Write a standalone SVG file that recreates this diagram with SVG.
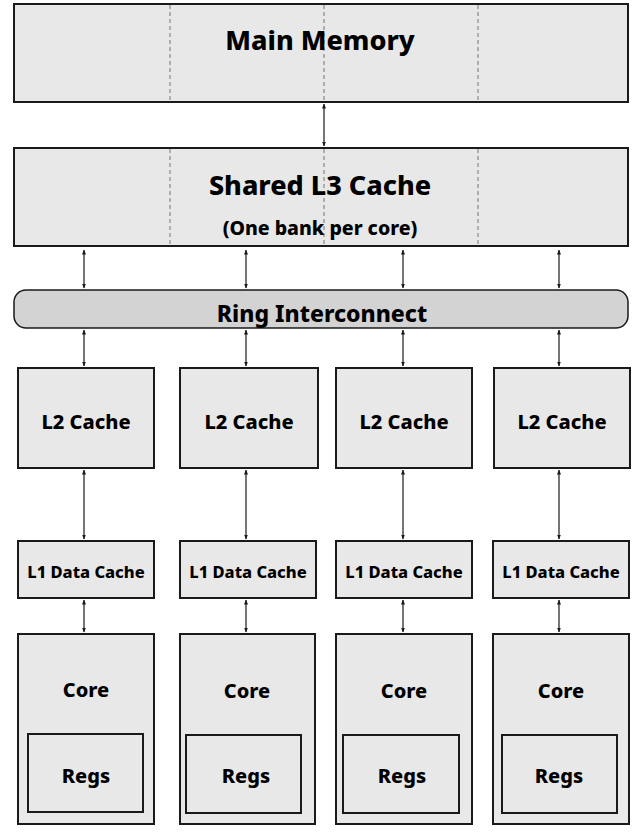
<svg xmlns="http://www.w3.org/2000/svg" width="640" height="840" viewBox="0 0 640 840">
<style>
.box{fill:#e8e8e8;stroke:#1a1a1a;stroke-width:2}
.ring{fill:#d3d3d3;stroke:#1a1a1a;stroke-width:1.5}
.dash{stroke:#888;stroke-width:1.2;stroke-dasharray:4,3;fill:none}
.t{font-family:"Noto Sans","Open Sans","DejaVu Sans",sans-serif;font-weight:800;fill:#000;text-anchor:middle}
.big{font-size:27px}
.sub{font-size:19.5px}
.ri{font-size:23px}
.l2{font-size:20px}
.l1{font-size:16.5px}
.c{stroke:#1a1a1a;stroke-width:1.2;fill:none;marker-start:url(#ah);marker-end:url(#ah)}
</style>
<defs>
<marker id="ah" viewBox="0 0 10 10" refX="9" refY="5" markerWidth="5" markerHeight="5" orient="auto-start-reverse" markerUnits="userSpaceOnUse">
<path d="M0,1 L10,5 L0,9 z" fill="#1a1a1a"/>
</marker>
</defs>
<rect width="640" height="840" fill="#fff"/>

<g id="main-memory">
<rect class="box" x="14" y="4" width="614" height="98"/>
<line class="dash" x1="170" y1="5" x2="170" y2="101"/>
<line class="dash" x1="324" y1="5" x2="324" y2="101"/>
<line class="dash" x1="478" y1="5" x2="478" y2="101"/>
<text class="t big" x="320" y="50">Main Memory</text>
</g>

<g id="l3-cache">
<rect class="box" x="14" y="148" width="614" height="98"/>
<line class="dash" x1="170" y1="149" x2="170" y2="245"/>
<line class="dash" x1="324" y1="149" x2="324" y2="245"/>
<line class="dash" x1="478" y1="149" x2="478" y2="245"/>
<text class="t big" x="320" y="195">Shared L3 Cache</text>
<text class="t sub" x="320" y="235">(One bank per core)</text>
</g>

<g id="ring">
<rect class="ring" x="14" y="290" width="614" height="38" rx="12"/>
<text class="t ri" x="322" y="322">Ring Interconnect</text>
</g>

<g id="l2-1"><rect class="box" x="18" y="368" width="136" height="100"/><text class="t l2" x="86" y="429">L2 Cache</text></g>
<g id="l2-2"><rect class="box" x="180" y="368" width="138" height="100"/><text class="t l2" x="249" y="429">L2 Cache</text></g>
<g id="l2-3"><rect class="box" x="336" y="368" width="136" height="100"/><text class="t l2" x="404" y="429">L2 Cache</text></g>
<g id="l2-4"><rect class="box" x="494" y="368" width="136" height="100"/><text class="t l2" x="562" y="429">L2 Cache</text></g>

<g id="l1-1"><rect class="box" x="18" y="541" width="136" height="57"/><text class="t l1" x="86" y="578">L1 Data Cache</text></g>
<g id="l1-2"><rect class="box" x="180" y="541" width="136" height="57"/><text class="t l1" x="248" y="578">L1 Data Cache</text></g>
<g id="l1-3"><rect class="box" x="336" y="541" width="136" height="57"/><text class="t l1" x="404" y="578">L1 Data Cache</text></g>
<g id="l1-4"><rect class="box" x="493" y="541" width="136" height="57"/><text class="t l1" x="561" y="578">L1 Data Cache</text></g>

<g id="core-1"><rect class="box" x="18" y="634" width="136" height="190"/><text class="t l2" x="86" y="697">Core</text>
<g id="regs-1"><rect class="box" x="28" y="734" width="115" height="78"/><text class="t l2" x="86" y="783">Regs</text></g></g>
<g id="core-2"><rect class="box" x="180" y="634" width="135" height="190"/><text class="t l2" x="247" y="698">Core</text>
<g id="regs-2"><rect class="box" x="186" y="735" width="115" height="78"/><text class="t l2" x="246" y="783">Regs</text></g></g>
<g id="core-3"><rect class="box" x="336" y="634" width="136" height="190"/><text class="t l2" x="404" y="698">Core</text>
<g id="regs-3"><rect class="box" x="343" y="735" width="116" height="78"/><text class="t l2" x="402" y="783">Regs</text></g></g>
<g id="core-4"><rect class="box" x="493" y="634" width="136" height="190"/><text class="t l2" x="561" y="698">Core</text>
<g id="regs-4"><rect class="box" x="502" y="735" width="115" height="78"/><text class="t l2" x="559" y="783">Regs</text></g></g>

<g id="connectors">
<line class="c" x1="324" y1="104" x2="324" y2="146"/>
<line class="c" x1="84" y1="250" x2="84" y2="288"/>
<line class="c" x1="246" y1="250" x2="246" y2="288"/>
<line class="c" x1="403" y1="250" x2="403" y2="288"/>
<line class="c" x1="559" y1="250" x2="559" y2="288"/>
<line class="c" x1="84" y1="330" x2="84" y2="366"/>
<line class="c" x1="246" y1="330" x2="246" y2="366"/>
<line class="c" x1="403" y1="330" x2="403" y2="366"/>
<line class="c" x1="559" y1="330" x2="559" y2="366"/>
<line class="c" x1="84" y1="470" x2="84" y2="539"/>
<line class="c" x1="246" y1="470" x2="246" y2="539"/>
<line class="c" x1="403" y1="470" x2="403" y2="539"/>
<line class="c" x1="559" y1="470" x2="559" y2="539"/>
<line class="c" x1="84" y1="600" x2="84" y2="632"/>
<line class="c" x1="246" y1="600" x2="246" y2="632"/>
<line class="c" x1="403" y1="600" x2="403" y2="632"/>
<line class="c" x1="559" y1="600" x2="559" y2="632"/>
</g>
</svg>
